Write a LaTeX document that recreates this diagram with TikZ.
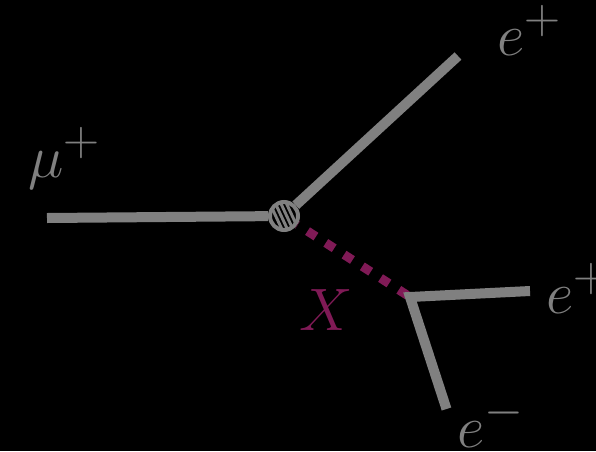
\documentclass[tikz,border=0pt]{standalone}
\usepackage{tikz}
\usetikzlibrary{arrows.meta, positioning, calc}
\definecolor{lgray}{RGB}{128,128,128}
\definecolor{xpurple}{RGB}{128,26,86}
\tikzset{
  leg/.style={draw=lgray, line width=0.2cm},
  lbl/.style={lgray, font=\Huge, scale=1.37, transform shape, inner sep=0pt, anchor=base west},
}
\begin{document}
\begin{tikzpicture}
  % 背景
  \fill[black] (0,0) rectangle (11.92,9.02);
  \useasboundingbox (0,0) rectangle (11.92,9.02);

  % 頂点と端点
  \coordinate (mu) at (0.94,4.66);
  \coordinate (epa) at (9.16,7.90);
  \coordinate (xv) at (8.20,3.08);
  \coordinate (epb) at (10.60,3.20);
  \coordinate (em) at (8.93,0.84);
  \node[circle, draw=lgray, fill=black, line width=0.08cm, minimum size=0.56cm, inner sep=0pt,
        path picture={
          \foreach \o in {-0.15,-0.05,0.05,0.15}
            \draw[lgray, line width=0.06cm]
              ($(path picture bounding box.center)+(-65:0.4)+(25:\o)$) --
              ($(path picture bounding box.center)+(115:0.4)+(25:\o)$);
        }] (vtx) at (5.68,4.70) {};

  % 中間粒子 X
  \draw[xpurple, line width=0.18cm, dash pattern=on 0.2cm off 0.234cm, dash phase=0.194cm] (vtx) -- (xv);

  % 線
  \draw[leg] (mu) -- (vtx);
  \draw[leg] (vtx) -- (epa);
  \draw[leg, line join=miter] (epb) -- (xv) -- (em);

  % ラベル
  \node[lbl] (lmu) at (0.56,5.48) {$\mu^+$};
  \node[lbl] (lepa) at (9.94,7.92) {$e^+$};
  \node[lbl] (lepb) at (10.92,2.76) {$e^+$};
  \node[lbl] (lem) at (9.14,0.08) {$e^-$};
  \node[lbl, xpurple] (lx) at (5.98,2.42) {$X$};
\end{tikzpicture}
\end{document}
